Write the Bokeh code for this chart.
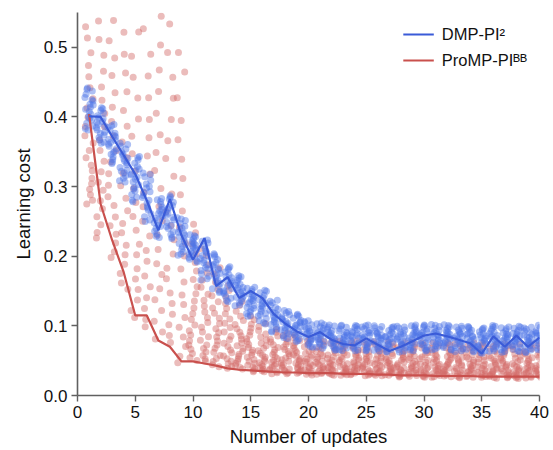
from bokeh.plotting import figure
from bokeh.models import Range1d, FixedTicker, PrintfTickFormatter, Legend, LegendItem
from bokeh.embed import file_html
from bokeh.resources import INLINE

# ---- data ----
updates = list(range(1, 41))
dmp_mean = [0.401, 0.400, 0.372, 0.345, 0.318, 0.280, 0.237, 0.282, 0.230, 0.195,
            0.226, 0.157, 0.170, 0.140, 0.150, 0.140, 0.117, 0.103, 0.092, 0.084,
            0.091, 0.080, 0.074, 0.072, 0.082, 0.073, 0.064, 0.070, 0.078, 0.086,
            0.089, 0.085, 0.080, 0.075, 0.060, 0.085, 0.070, 0.086, 0.070, 0.083]
promp_mean = [0.404, 0.275, 0.223, 0.177, 0.115, 0.115, 0.079, 0.070, 0.049, 0.049,
              0.046, 0.043, 0.039, 0.037, 0.036, 0.035, 0.034, 0.033, 0.033, 0.032,
              0.032, 0.032, 0.031, 0.031, 0.031, 0.030, 0.030, 0.029, 0.029, 0.029,
              0.028, 0.028, 0.028, 0.028, 0.027, 0.027, 0.027, 0.027, 0.027, 0.027]
# spread of the individual rollouts per update (low / high of each cloud)
dmp_lo = [0.380, 0.360, 0.330, 0.305, 0.275, 0.245, 0.225, 0.222, 0.200, 0.190,
          0.162, 0.146, 0.132, 0.126, 0.112, 0.100, 0.090, 0.080, 0.075, 0.068,
          0.066, 0.064, 0.063, 0.062, 0.063, 0.062, 0.060, 0.061, 0.062, 0.063,
          0.064, 0.063, 0.062, 0.061, 0.058, 0.062, 0.060, 0.062, 0.060, 0.062]
dmp_hi = [0.445, 0.415, 0.390, 0.365, 0.345, 0.320, 0.285, 0.288, 0.258, 0.232,
          0.224, 0.206, 0.186, 0.172, 0.157, 0.152, 0.139, 0.123, 0.117, 0.109,
          0.105, 0.103, 0.102, 0.101, 0.103, 0.101, 0.099, 0.101, 0.102, 0.103,
          0.103, 0.102, 0.101, 0.100, 0.097, 0.102, 0.099, 0.101, 0.099, 0.101]
promp_lo = [0.275, 0.220, 0.185, 0.150, 0.100, 0.078, 0.075, 0.062, 0.046, 0.046,
            0.043, 0.040, 0.036, 0.034, 0.033, 0.032, 0.031, 0.030, 0.030, 0.029,
            0.029, 0.029, 0.028, 0.028, 0.028, 0.027, 0.027, 0.026, 0.026, 0.026,
            0.025, 0.025, 0.025, 0.025, 0.024, 0.024, 0.024, 0.024, 0.024, 0.024]
promp_hi = [0.540, 0.600, 0.600, 0.600, 0.600, 0.600, 0.590, 0.570, 0.510, 0.250,
            0.212, 0.188, 0.160, 0.135, 0.116, 0.104, 0.097, 0.091, 0.087, 0.083,
            0.081, 0.080, 0.079, 0.079, 0.078, 0.078, 0.077, 0.077, 0.077, 0.077,
            0.076, 0.076, 0.076, 0.076, 0.075, 0.075, 0.075, 0.075, 0.075, 0.075]
# fixed placement pattern of the rollouts inside each cloud
dmp_frac = [0.05, 0.52, 0.31, 0.88, 0.17, 0.66, 0.43, 0.95, 0.24, 0.74,
            0.59, 0.11, 0.81, 0.37, 0.02, 0.69, 0.48, 0.28, 0.92, 0.57]
promp_frac = [0.42, 0.05, 0.75, 0.18, 0.00, 0.57, 0.29, 0.90, 0.11, 0.37, 0.63,
              0.02, 0.25, 0.82, 0.47, 0.14, 0.96, 0.08, 0.52, 0.33, 0.69, 0.21]
x_jitter = [-0.32, 0.12, -0.05, 0.28, -0.20, 0.34, 0.02, -0.14, 0.22, -0.36, 0.08,
            0.30, -0.26, 0.16, -0.09, 0.25, -0.30, 0.05, -0.18, 0.36, -0.02, 0.19]
# per-update offset of the pattern (fraction of one gap) so rows do not line up
update_shift = [0.00, 0.37, 0.71, 0.13, 0.54, 0.88, 0.26, 0.62, 0.05, 0.45,
                0.79, 0.19, 0.58, 0.92, 0.33, 0.67, 0.09, 0.49, 0.83, 0.24,
                0.61, 0.02, 0.41, 0.75, 0.16, 0.53, 0.87, 0.29, 0.68, 0.11,
                0.46, 0.81, 0.22, 0.57, 0.95, 0.35, 0.72, 0.14, 0.51, 0.86]

x_ticks = [0, 5, 10, 15, 20, 25, 30, 35, 40]
y_ticks = [0.0, 0.1, 0.2, 0.3, 0.4, 0.5]

BLUE_LINE = "#3a5bd8"
RED_LINE = "#c9504d"
BLUE_DOT = "#4c74e6"
RED_DOT = "#d26a68"
FONT = "Liberation Sans"


def cloud(lo, hi, frac, step, gap):
    xs, ys = [], []
    for k, u in enumerate(updates):
        for i, f in enumerate(frac):
            j = (i + k * step) % len(x_jitter)
            xs.append(u + x_jitter[j])
            ff = f + update_shift[k] * gap
            ys.append(lo[k] + ff * (hi[k] - lo[k]))
    return xs, ys


p = figure(width=553, height=450, output_backend="svg", toolbar_location=None,
           x_range=Range1d(0, 40), y_range=Range1d(0, 0.55),
           min_border_left=77, min_border_right=14, min_border_top=12, min_border_bottom=55)
p.outline_line_color = None
p.grid.visible = False
p.background_fill_color = "white"

rx, ry = cloud(promp_lo, promp_hi, promp_frac, 5, 0.045)
bx, by = cloud(dmp_lo, dmp_hi, dmp_frac, 3, 0.05)
p.scatter(rx, ry, size=7, fill_color=RED_DOT, fill_alpha=0.45, line_color=None)
p.scatter(bx, by, size=7, fill_color=BLUE_DOT, fill_alpha=0.45, line_color=None)

r_red = p.line(updates, promp_mean, line_color=RED_LINE, line_width=2.2)
r_blue = p.line(updates, dmp_mean, line_color=BLUE_LINE, line_width=2.2)

for ax in (p.xaxis[0], p.yaxis[0]):
    ax.axis_line_color = "#606060"
    ax.axis_line_width = 1.6
    ax.major_tick_line_color = "#606060"
    ax.major_tick_line_width = 1.4
    ax.major_tick_out = 6
    ax.major_tick_in = 0
    ax.minor_tick_line_color = None
    ax.major_label_text_font = FONT
    ax.major_label_text_font_size = "17px"
    ax.major_label_text_color = "#111111"
    ax.axis_label_text_font = FONT
    ax.axis_label_text_font_size = "18.5px"
    ax.axis_label_text_font_style = "normal"
    ax.axis_label_text_color = "#111111"

p.xaxis.ticker = FixedTicker(ticks=x_ticks)
p.yaxis.ticker = FixedTicker(ticks=y_ticks)
p.yaxis.formatter = PrintfTickFormatter(format="%.1f")
p.xaxis.axis_label = "Number of updates"
p.yaxis.axis_label = "Learning cost"
p.xaxis.major_label_standoff = 4
p.yaxis.major_label_standoff = 4
p.xaxis.axis_label_standoff = 5
p.yaxis.axis_label_standoff = 7

legend = Legend(items=[LegendItem(label="DMP-PI²", renderers=[r_blue]),
                       LegendItem(label="ProMP-PIᴮᴮ", renderers=[r_red])],
                location="top_right")
legend.border_line_color = None
legend.background_fill_alpha = 0
legend.label_text_font = FONT
legend.label_text_font_size = "16.5px"
legend.label_text_color = "#111111"
legend.glyph_width = 31
legend.glyph_height = 20
legend.label_standoff = 8
legend.spacing = 6
legend.padding = 0
legend.margin = 12
p.add_layout(legend)

open("out.html", "w").write(file_html(p, INLINE))
